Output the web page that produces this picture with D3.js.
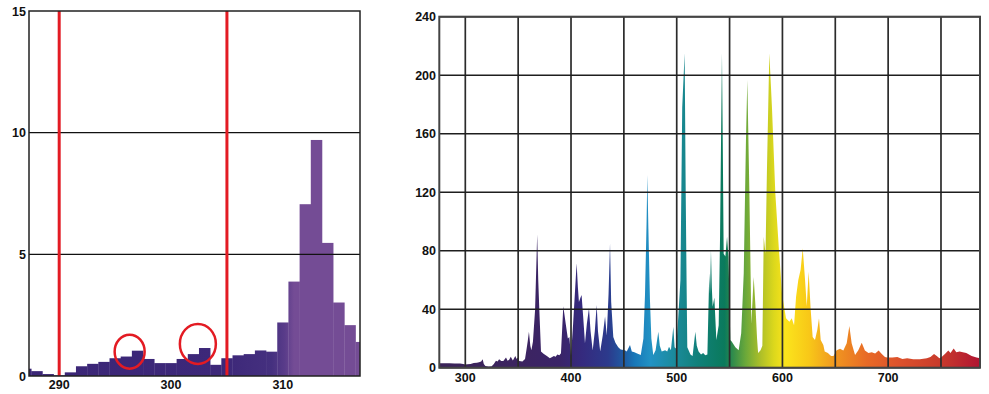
<!DOCTYPE html>
<html>
<head>
<meta charset="utf-8">
<script src="https://cdn.jsdelivr.net/npm/d3@7"></script>
<style>
  body { margin: 0; background: #fff; }
  svg text { font-family: "Liberation Sans", Arial, sans-serif; font-weight: bold; font-size: 12.5px; fill: #111; }
</style>
</head>
<body>
<svg id="chart" width="989" height="394"></svg>
<script>
// --- left panel: UV detail, 1 nm bins ---
const uvBins = d3.range(287, 318);
const uvValues = [0.3, 0.2, 0.08, 0.03, 0.15, 0.4, 0.5, 0.58, 0.73, 0.8, 1.04, 0.7, 0.53, 0.53, 0.7, 0.9,
  1.15, 0.46, 0.73, 0.85, 0.9, 1.05, 1.0, 2.2, 3.88, 7.06, 9.7, 5.47, 3.02, 2.09, 1.4];
const uvTicksX = [290, 300, 310];
const uvTicksY = [0, 5, 10, 15];
const uvMarkers = [290, 305];
const uvCircles = [{ x: 296.3, y: 1.0, rx: 15, ry: 17 }, { x: 302.4, y: 1.32, rx: 18, ry: 20 }];

// --- right panel: full spectrum ---
const wavelengths = [275.4, 280, 285, 290, 295, 298, 300, 302, 305, 308, 311, 313, 315, 316.4, 317.5, 319, 322, 325, 327, 329,
  330.5, 332, 334, 336, 338.5, 340, 341.5, 343, 345, 347.3, 348.5, 349.5, 351, 354, 356.5, 358, 359, 360.2, 361.5, 362.5,
  364, 366, 368, 369, 370, 371.6, 374, 377.5, 380, 383.8, 385.5, 387, 389, 390.5, 392.7, 395, 397, 398.4, 400, 402,
  405.3, 406.5, 407.5, 409, 410, 411.5, 413.2, 415, 417, 418.5, 420.5, 422.5, 424.3, 425.5, 427.6, 430, 432.2, 433.8, 435.5, 436.9,
  438, 440, 442, 444.7, 447, 451, 452.7, 455.8, 457.5, 460, 462, 466, 468.5, 470, 471.5, 472.2, 473.2, 474.7, 476, 477.8,
  480, 482.6, 484, 485.8, 489, 491, 492.7, 494.5, 496.8, 498, 499.5, 501.5, 503.5, 505.2, 507.5, 508.5, 509.3, 510,
  513, 515, 517.6, 519, 520.7, 523, 525, 527, 529, 530.8, 531.5, 532.4, 533.2, 534, 535.6, 537.5, 539.7, 541, 541.6, 542.8,
  543.6, 544.4, 546, 547.6, 549, 550.7, 552, 555.5, 558.6, 561, 563.4, 565.5, 566.8, 568.7, 570.6, 572.8, 574.5, 576, 577, 579.3,
  581, 582.3, 584, 585.3, 587.6, 590.1, 593.3, 596.5, 599.6, 601.5, 603.4, 606.6, 608.8, 611, 612.9, 615, 617.2, 619.2, 621.4, 623,
  624.8, 626.7, 628.6, 630.8, 633, 634.6, 636.2, 638.7, 640, 643, 646, 648.3, 651.3, 654.5, 657.6, 660.8, 663.3, 665.5, 668.7, 671.8,
  675, 678, 681.4, 684.5, 687.7, 691, 694, 697, 699, 704, 708.7, 713.5, 718, 723.8, 730, 736.6, 740, 743.4, 746, 748.5,
  750.6, 753.7, 756.9, 759, 762, 764.5, 767.6, 770.7, 773.9, 779, 783.7, 786.9];
const intensities = [3, 3, 3.1, 2.8, 2.8, 2.5, 2.2, 2.3, 2.6, 3.2, 3.3, 3.8, 4.2, 5.7, 2.5, 1.2, 0.9, 1.0, 2.5, 4.8,
  4.2, 5.7, 4.6, 4.5, 7, 4.8, 5.5, 7.5, 5, 8, 6, 7, 4.5, 4.2, 6, 13, 18, 24.6, 15, 12,
  18, 39.5, 91, 60, 40, 11, 9.5, 7.8, 6.4, 8, 7.5, 9, 8.5, 9.8, 42, 30, 20, 21, 8, 30,
  71.5, 55, 45, 48, 49.7, 35, 16.7, 30, 40.6, 25, 11.7, 25, 42.9, 25, 11, 22, 35, 22, 50, 85,
  45, 21, 17, 14, 12.5, 12, 11, 15.5, 11, 10.5, 9.8, 8.7, 20, 50, 100, 131.7, 95, 46, 20, 8.7,
  12, 24.6, 15, 11, 12, 11, 14.4, 12, 28, 14, 13, 35, 60, 178, 215, 120, 60, 14,
  9, 8, 24.6, 15, 11, 9, 10, 8.5, 9, 64.5, 50, 80.5, 55, 41.7, 48, 19, 29, 90, 133, 215,
  150, 78, 76, 89.6, 76, 19, 18, 14, 12, 23.5, 64.5, 155.7, 196.7, 121.5, 30, 62, 42, 20, 10, 12,
  15, 89.6, 78, 133, 215, 178, 119, 82.7, 50.9, 42, 33.8, 31.5, 33.8, 29, 48.5, 60, 67, 81.6, 60, 42,
  65.6, 40, 21, 19, 26, 33.8, 19, 15.5, 11, 10, 8, 8, 12, 13, 11.7, 16.7, 28.5, 16.7, 8.7, 12,
  17, 11.7, 10, 10.5, 9.7, 11.7, 9.3, 7.3, 7, 7, 7.3, 6, 6.5, 5.7, 5.8, 6.5, 7.3, 9.3, 8, 6.5,
  7.3, 9.3, 11.7, 10, 13.2, 10.5, 11, 10.5, 10, 8, 6.9, 6.5];
const specTicksX = [300, 400, 500, 600, 700];
const specGridX = d3.range(300, 751, 50);
const specTicksY = d3.range(0, 241, 40);
const specStops = [[275, "#3a2358"], [350, "#3c2460"], [390, "#3a2468"], [410, "#352a7e"], [435, "#2c3a8c"],
  [450, "#1f5aa2"], [460, "#1877b8"], [475, "#2292c4"], [500, "#1a8a98"], [520, "#11807a"], [545, "#0a7a5c"],
  [555, "#3a9048"], [565, "#6aa83a"], [580, "#b0c028"], [592, "#dcd81c"], [603, "#fbe41c"], [625, "#f8c818"],
  [650, "#f09620"], [680, "#e86a26"], [710, "#dc522c"], [750, "#c83a2c"], [787, "#b01432"]];

const svg = d3.select("#chart");
const defs = svg.append("defs");

// ---------- left panel ----------
const xL = d3.scaleLinear().domain([287.3, 316.9]).range([29, 360]);
const yL = d3.scaleLinear().domain([0, 15]).range([376, 11]);

defs.append("clipPath").attr("id", "clipL")
  .append("rect").attr("x", xL.range()[0]).attr("y", yL.range()[1])
  .attr("width", xL.range()[1] - xL.range()[0]).attr("height", yL.range()[0] - yL.range()[1]);

const gradL = defs.append("linearGradient").attr("id", "gradL")
  .attr("gradientUnits", "userSpaceOnUse")
  .attr("x1", xL(287)).attr("x2", xL(317)).attr("y1", 0).attr("y2", 0);
[[287, "#3b2676"], [305, "#3d2879"], [309, "#45307f"], [310.2, "#5a3c8a"], [311, "#744c95"], [317, "#744c95"]]
  .forEach(([w, c]) => gradL.append("stop").attr("offset", (xL(w) - xL(287)) / (xL(317) - xL(287))).attr("stop-color", c));

const left = svg.append("g");
left.append("g").attr("clip-path", "url(#clipL)")
  .selectAll("rect").data(uvBins).enter().append("rect")
  .attr("x", (d) => xL(d - 0.5))
  .attr("width", (d) => xL(d + 0.5) - xL(d - 0.5) + 0.3)
  .attr("y", (d, i) => yL(uvValues[i]))
  .attr("height", (d, i) => yL(0) - yL(uvValues[i]))
  .attr("fill", "url(#gradL)");

left.selectAll("line.grid").data([5, 10]).enter().append("line")
  .attr("x1", xL.range()[0]).attr("x2", xL.range()[1])
  .attr("y1", (d) => yL(d)).attr("y2", (d) => yL(d))
  .attr("stroke", "#111").attr("stroke-width", 1.4);

left.selectAll("line.marker").data(uvMarkers).enter().append("line")
  .attr("x1", (d) => xL(d)).attr("x2", (d) => xL(d))
  .attr("y1", yL(15)).attr("y2", yL(0))
  .attr("stroke", "#e31b23").attr("stroke-width", 3);

left.selectAll("ellipse").data(uvCircles).enter().append("ellipse")
  .attr("cx", (d) => xL(d.x)).attr("cy", (d) => yL(d.y))
  .attr("rx", (d) => d.rx).attr("ry", (d) => d.ry)
  .attr("fill", "none").attr("stroke", "#e31b23").attr("stroke-width", 2.5);

left.append("rect")
  .attr("x", xL.range()[0]).attr("y", yL.range()[1])
  .attr("width", xL.range()[1] - xL.range()[0]).attr("height", yL.range()[0] - yL.range()[1])
  .attr("fill", "none").attr("stroke", "#222").attr("stroke-width", 1.5);

left.selectAll("text.ty").data(uvTicksY).enter().append("text")
  .attr("x", 26).attr("y", (d) => yL(d)).attr("dy", "0.36em")
  .attr("text-anchor", "end").text((d) => d);
left.selectAll("text.tx").data(uvTicksX).enter().append("text")
  .attr("x", (d) => xL(d)).attr("y", 389)
  .attr("text-anchor", "middle").text((d) => d);

// ---------- right panel ----------
const xR = d3.scaleLinear().domain([275.4, 786.9]).range([439.3, 980]);
const yR = d3.scaleLinear().domain([0, 240]).range([367.7, 16.7]);

const gradR = defs.append("linearGradient").attr("id", "gradR")
  .attr("gradientUnits", "userSpaceOnUse")
  .attr("x1", xR(275)).attr("x2", xR(787)).attr("y1", 0).attr("y2", 0);
specStops.forEach(([w, c]) => gradR.append("stop")
  .attr("offset", (w - 275) / (787 - 275)).attr("stop-color", c));

const spectrum = wavelengths.map((w, i) => [w, intensities[i]]);
const area = d3.area().x((d) => xR(d[0])).y0(yR(0)).y1((d) => yR(d[1]));

const right = svg.append("g");
right.append("path").datum(spectrum).attr("d", area).attr("fill", "url(#gradR)");

right.selectAll("line.gx").data(specGridX).enter().append("line")
  .attr("x1", (d) => xR(d)).attr("x2", (d) => xR(d))
  .attr("y1", yR(240)).attr("y2", yR(0))
  .attr("stroke", "#2b2b2b").attr("stroke-width", 1.7);
right.selectAll("line.gy").data(specTicksY).enter().append("line")
  .attr("x1", xR.range()[0]).attr("x2", xR.range()[1])
  .attr("y1", (d) => yR(d)).attr("y2", (d) => yR(d))
  .attr("stroke", "#1e1e1e").attr("stroke-width", 1.6);

right.append("rect")
  .attr("x", xR.range()[0]).attr("y", yR(240))
  .attr("width", xR.range()[1] - xR.range()[0]).attr("height", yR(0) - yR(240))
  .attr("fill", "none").attr("stroke", "#444").attr("stroke-width", 2);

right.selectAll("text.ty").data(specTicksY).enter().append("text")
  .attr("x", 436).attr("y", (d) => yR(d)).attr("dy", "0.36em")
  .attr("text-anchor", "end").text((d) => d);
right.selectAll("text.tx").data(specTicksX).enter().append("text")
  .attr("x", (d) => xR(d)).attr("y", 382)
  .attr("text-anchor", "middle").text((d) => d);
</script>
</body>
</html>
